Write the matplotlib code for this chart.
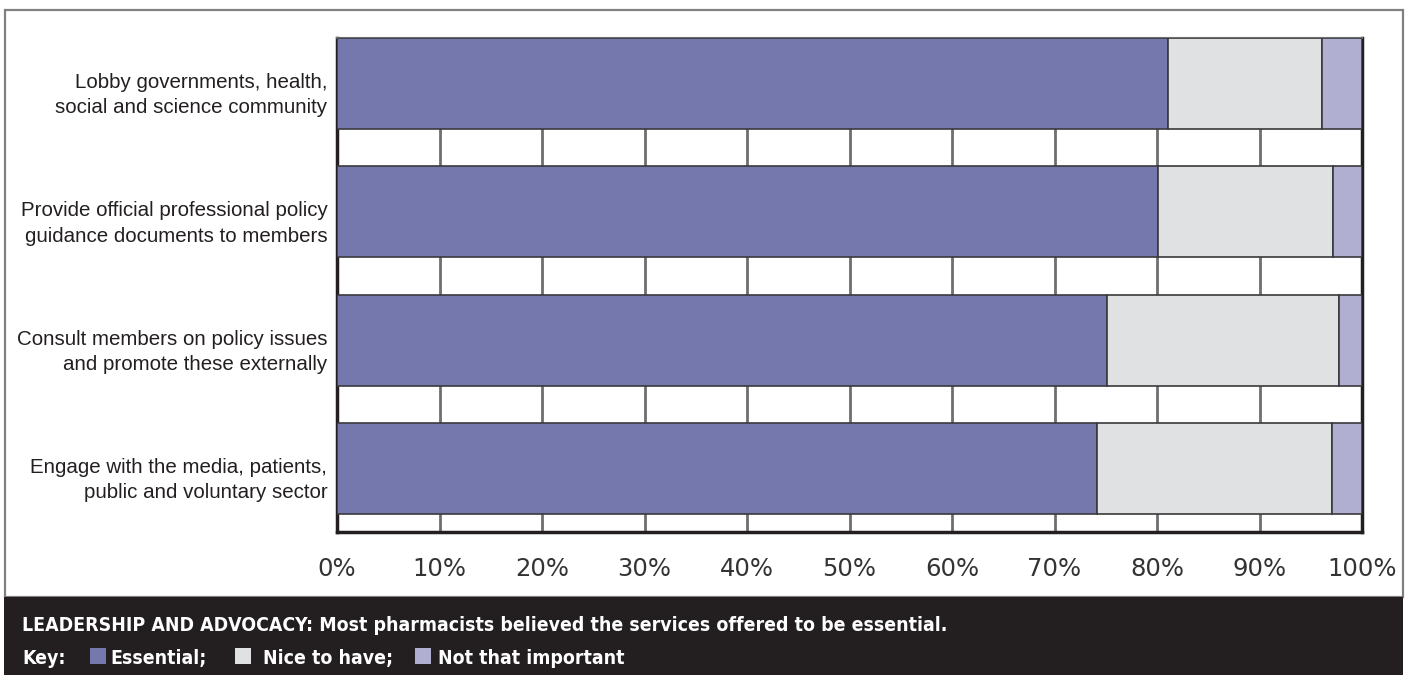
import numpy as np
import matplotlib.pyplot as plt
from matplotlib.patches import Rectangle

categories = ['Lobby governments, health,\nsocial and science community',
              'Provide official professional policy\nguidance documents to members',
              'Consult members on policy issues\nand promote these externally',
              'Engage with the media, patients,\npublic and voluntary sector']
essential = [81.1, 80.1, 75.1, 74.1]
nice_to_have = [15.0, 17.1, 22.7, 23.0]
not_important = [3.9, 2.8, 2.2, 2.9]
series_names = ['Essential', 'Nice to have', 'Not that important']
colors = ['#7478ad', '#e0e1e3', '#b0afd2']
xticks = np.arange(0, 101, 10)
caption = 'LEADERSHIP AND ADVOCACY: Most pharmacists believed the services offered to be essential.'

W, H = 1411, 675
fig = plt.figure(figsize=(W / 100, H / 100), dpi=100)

# outer frame and dark caption band
fig.patches.append(Rectangle((5 / W, 1 - 597 / H), 1398 / W, 587 / H, transform=fig.transFigure,
                             fill=False, edgecolor='#808080', lw=1.6))
fig.patches.append(Rectangle((4 / W, 0), 1399 / W, 78 / H, transform=fig.transFigure,
                             facecolor='#231f20', edgecolor='none'))

ax = fig.add_axes([337 / W, 1 - 532 / H, 1025 / W, 494 / H])
y = np.arange(len(categories))
left = np.zeros(len(categories))
for vals, c in zip([essential, nice_to_have, not_important], colors):
    ax.barh(y, vals, left=left, height=0.71, color=c, edgecolor='#3a3a3c', lw=1.2, zorder=3)
    left = left + np.array(vals)

ax.set_xlim(0, 100)
ax.set_ylim(3.495, -0.355)
ax.set_xticks(xticks)
ax.set_xticklabels([f'{v}%' for v in xticks], fontsize=17.5, color='#333333')
ax.set_yticks([])
ax.tick_params(axis='x', length=0, pad=18)
ax.grid(axis='x', color='#6d6e70', lw=2, zorder=1)
ax.set_axisbelow(True)
for s in ['left', 'right', 'bottom']:
    ax.spines[s].set_color('#231f20')
    ax.spines[s].set_linewidth(2.5)
ax.spines['top'].set_color('#6d6e70')
ax.spines['top'].set_linewidth(1.5)

for i, lab in enumerate(categories):
    ax.text(-0.0095, i + 0.09, lab, transform=ax.get_yaxis_transform(), ha='right', va='center',
            multialignment='right', fontsize=14.8, family='Liberation Sans', color='#231f20',
            linespacing=1.42)

# caption: condensed bold look, sized so the first line spans ~928 px
cap_kw = dict(color='white', fontweight='bold', family=['DejaVu Sans'], fontstretch='condensed',
              va='baseline', ha='left')
renderer = fig.canvas.get_renderer()
t1 = fig.text(22 / W, 1 - 631 / H, caption, fontsize=14, **cap_kw)
w = t1.get_window_extent(renderer).width
cap_size = 14 * 928 / w
t1.set_fontsize(cap_size)

base2 = 1 - 664 / H
fig.text(22 / W, base2, 'Key:', fontsize=cap_size, **cap_kw)
key_x = [90, 235, 415]
text_x = [110, 263, 438]
for kx, tx, name, c in zip(key_x, text_x, series_names, colors):
    fig.patches.append(Rectangle((kx / W, base2), 16 / W, 16 / H, transform=fig.transFigure,
                                 facecolor=c, edgecolor='none'))
    fig.text(tx / W, base2, name + (';' if name != series_names[-1] else ''),
             fontsize=cap_size, **cap_kw)

fig.savefig('out.png', dpi=100)
